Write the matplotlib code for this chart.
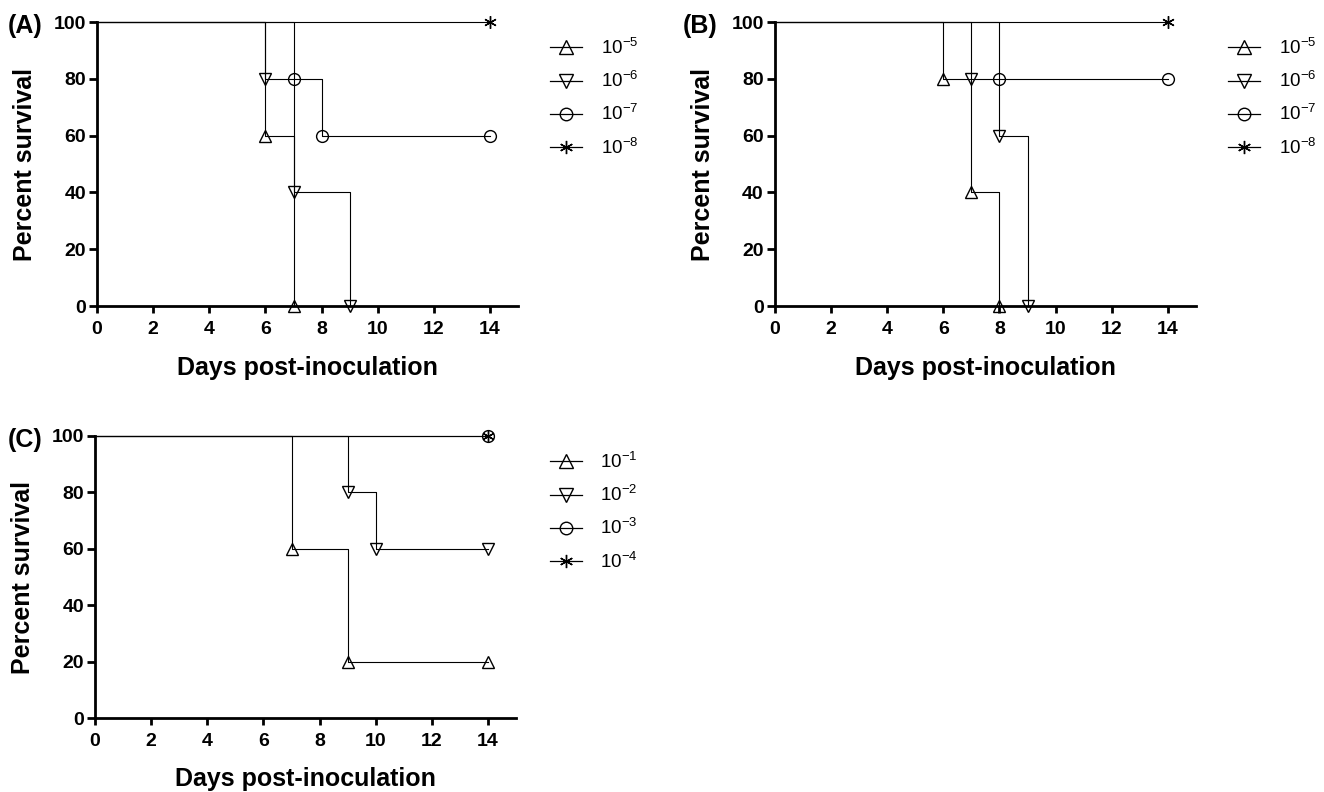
import matplotlib
matplotlib.use("Agg")
import matplotlib.pyplot as plt
from matplotlib.lines import Line2D

plt.rcParams['font.family'] = ['Liberation Sans', 'DejaVu Sans']
plt.rcParams['mathtext.fontset'] = 'custom'
plt.rcParams['mathtext.rm'] = 'Liberation Sans'
plt.rcParams['mathtext.it'] = 'Liberation Sans'
plt.rcParams['mathtext.default'] = 'regular'

# --- data: (days, percent survival) at each step ---
# panel A
a_days_5, a_surv_5 = [0, 6, 7], [100, 60, 0]
a_days_6, a_surv_6 = [0, 6, 7, 9], [100, 80, 40, 0]
a_days_7, a_surv_7 = [0, 7, 8, 14], [100, 80, 60, 60]
a_days_8, a_surv_8 = [0, 14], [100, 100]
# panel B
b_days_5, b_surv_5 = [0, 6, 7, 8], [100, 80, 40, 0]
b_days_6, b_surv_6 = [0, 7, 8, 9], [100, 80, 60, 0]
b_days_7, b_surv_7 = [0, 8, 14], [100, 80, 80]
b_days_8, b_surv_8 = [0, 14], [100, 100]
# panel C
c_days_1, c_surv_1 = [0, 7, 9, 14], [100, 60, 20, 20]
c_days_2, c_surv_2 = [0, 9, 10, 14], [100, 80, 60, 60]
c_days_3, c_surv_3 = [0, 14], [100, 100]
c_days_4, c_surv_4 = [0, 14], [100, 100]

labels_ab = ['$10^{-5}$', '$10^{-6}$', '$10^{-7}$', '$10^{-8}$']
labels_c = ['$10^{-1}$', '$10^{-2}$', '$10^{-3}$', '$10^{-4}$']

x_ticks = [0, 2, 4, 6, 8, 10, 12, 14]
y_ticks = [0, 20, 40, 60, 80, 100]

markers = ['^', 'v', 'o', (6, 2, 0)]
msizes = [9, 9, 8.5, 9]


def survival_panel(ax, series, labels, legend_x):
    handles = []
    for (days, surv), m, ms, lab in zip(series, markers, msizes, labels):
        ax.plot(days, surv, drawstyle='steps-post', color='black', lw=0.8,
                clip_on=False, zorder=3)
        ax.plot(days[1:], surv[1:], ls='none', marker=m, ms=ms, mfc='none',
                mec='black', mew=1.0, clip_on=False, zorder=4)
        handles.append(Line2D([], [], color='black', lw=0.9, marker=m, ms=ms + 0.5,
                              mfc='none', mec='black', mew=1.0, label=lab))

    ax.set_xlim(0, 15)
    ax.set_ylim(0, 100)
    ax.set_xticks(x_ticks)
    ax.set_yticks(y_ticks)
    for side in ['top', 'right']:
        ax.spines[side].set_visible(False)
    for side in ['left', 'bottom']:
        ax.spines[side].set_linewidth(2)
    ax.tick_params(axis='x', length=5, width=2, pad=6, labelsize=14)
    ax.tick_params(axis='y', length=6, width=2, pad=2, labelsize=14)
    for t in ax.get_xticklabels() + ax.get_yticklabels():
        t.set_fontweight('bold')

    ax.set_xlabel('Days post-inoculation', fontsize=18, fontweight='bold')
    ax.set_ylabel('Percent survival', fontsize=18, fontweight='bold')
    ax.xaxis.set_label_coords(0.5, -0.175)
    ax.yaxis.set_label_coords(-0.1425, 0.5)

    ax.legend(handles=handles, loc='upper left', bbox_to_anchor=(legend_x, 0.944),
              frameon=False, fontsize=13.5, handlelength=1.7, handletextpad=1.0,
              labelspacing=0.70, borderpad=0, borderaxespad=0)


fig = plt.figure(figsize=(13.24, 7.92), dpi=100)
ax_a = fig.add_axes([0.0733, 0.6136, 0.318, 0.3586])
ax_b = fig.add_axes([0.5853, 0.6136, 0.318, 0.3586])
ax_c = fig.add_axes([0.0718, 0.0934, 0.318, 0.3561])

survival_panel(ax_a, [(a_days_5, a_surv_5), (a_days_6, a_surv_6),
                      (a_days_7, a_surv_7), (a_days_8, a_surv_8)], labels_ab, 1.076)
survival_panel(ax_b, [(b_days_5, b_surv_5), (b_days_6, b_surv_6),
                      (b_days_7, b_surv_7), (b_days_8, b_surv_8)], labels_ab, 1.076)
survival_panel(ax_c, [(c_days_1, c_surv_1), (c_days_2, c_surv_2),
                      (c_days_3, c_surv_3), (c_days_4, c_surv_4)], labels_c, 1.08)

fig.text(8 / 1324, 1 - 33 / 792, '(A)', fontsize=18, fontweight='bold', va='baseline')
fig.text(683 / 1324, 1 - 33 / 792, '(B)', fontsize=18, fontweight='bold', va='baseline')
fig.text(8 / 1324, 1 - 447 / 792, '(C)', fontsize=18, fontweight='bold', va='baseline')

fig.savefig('out.png', dpi=100)
